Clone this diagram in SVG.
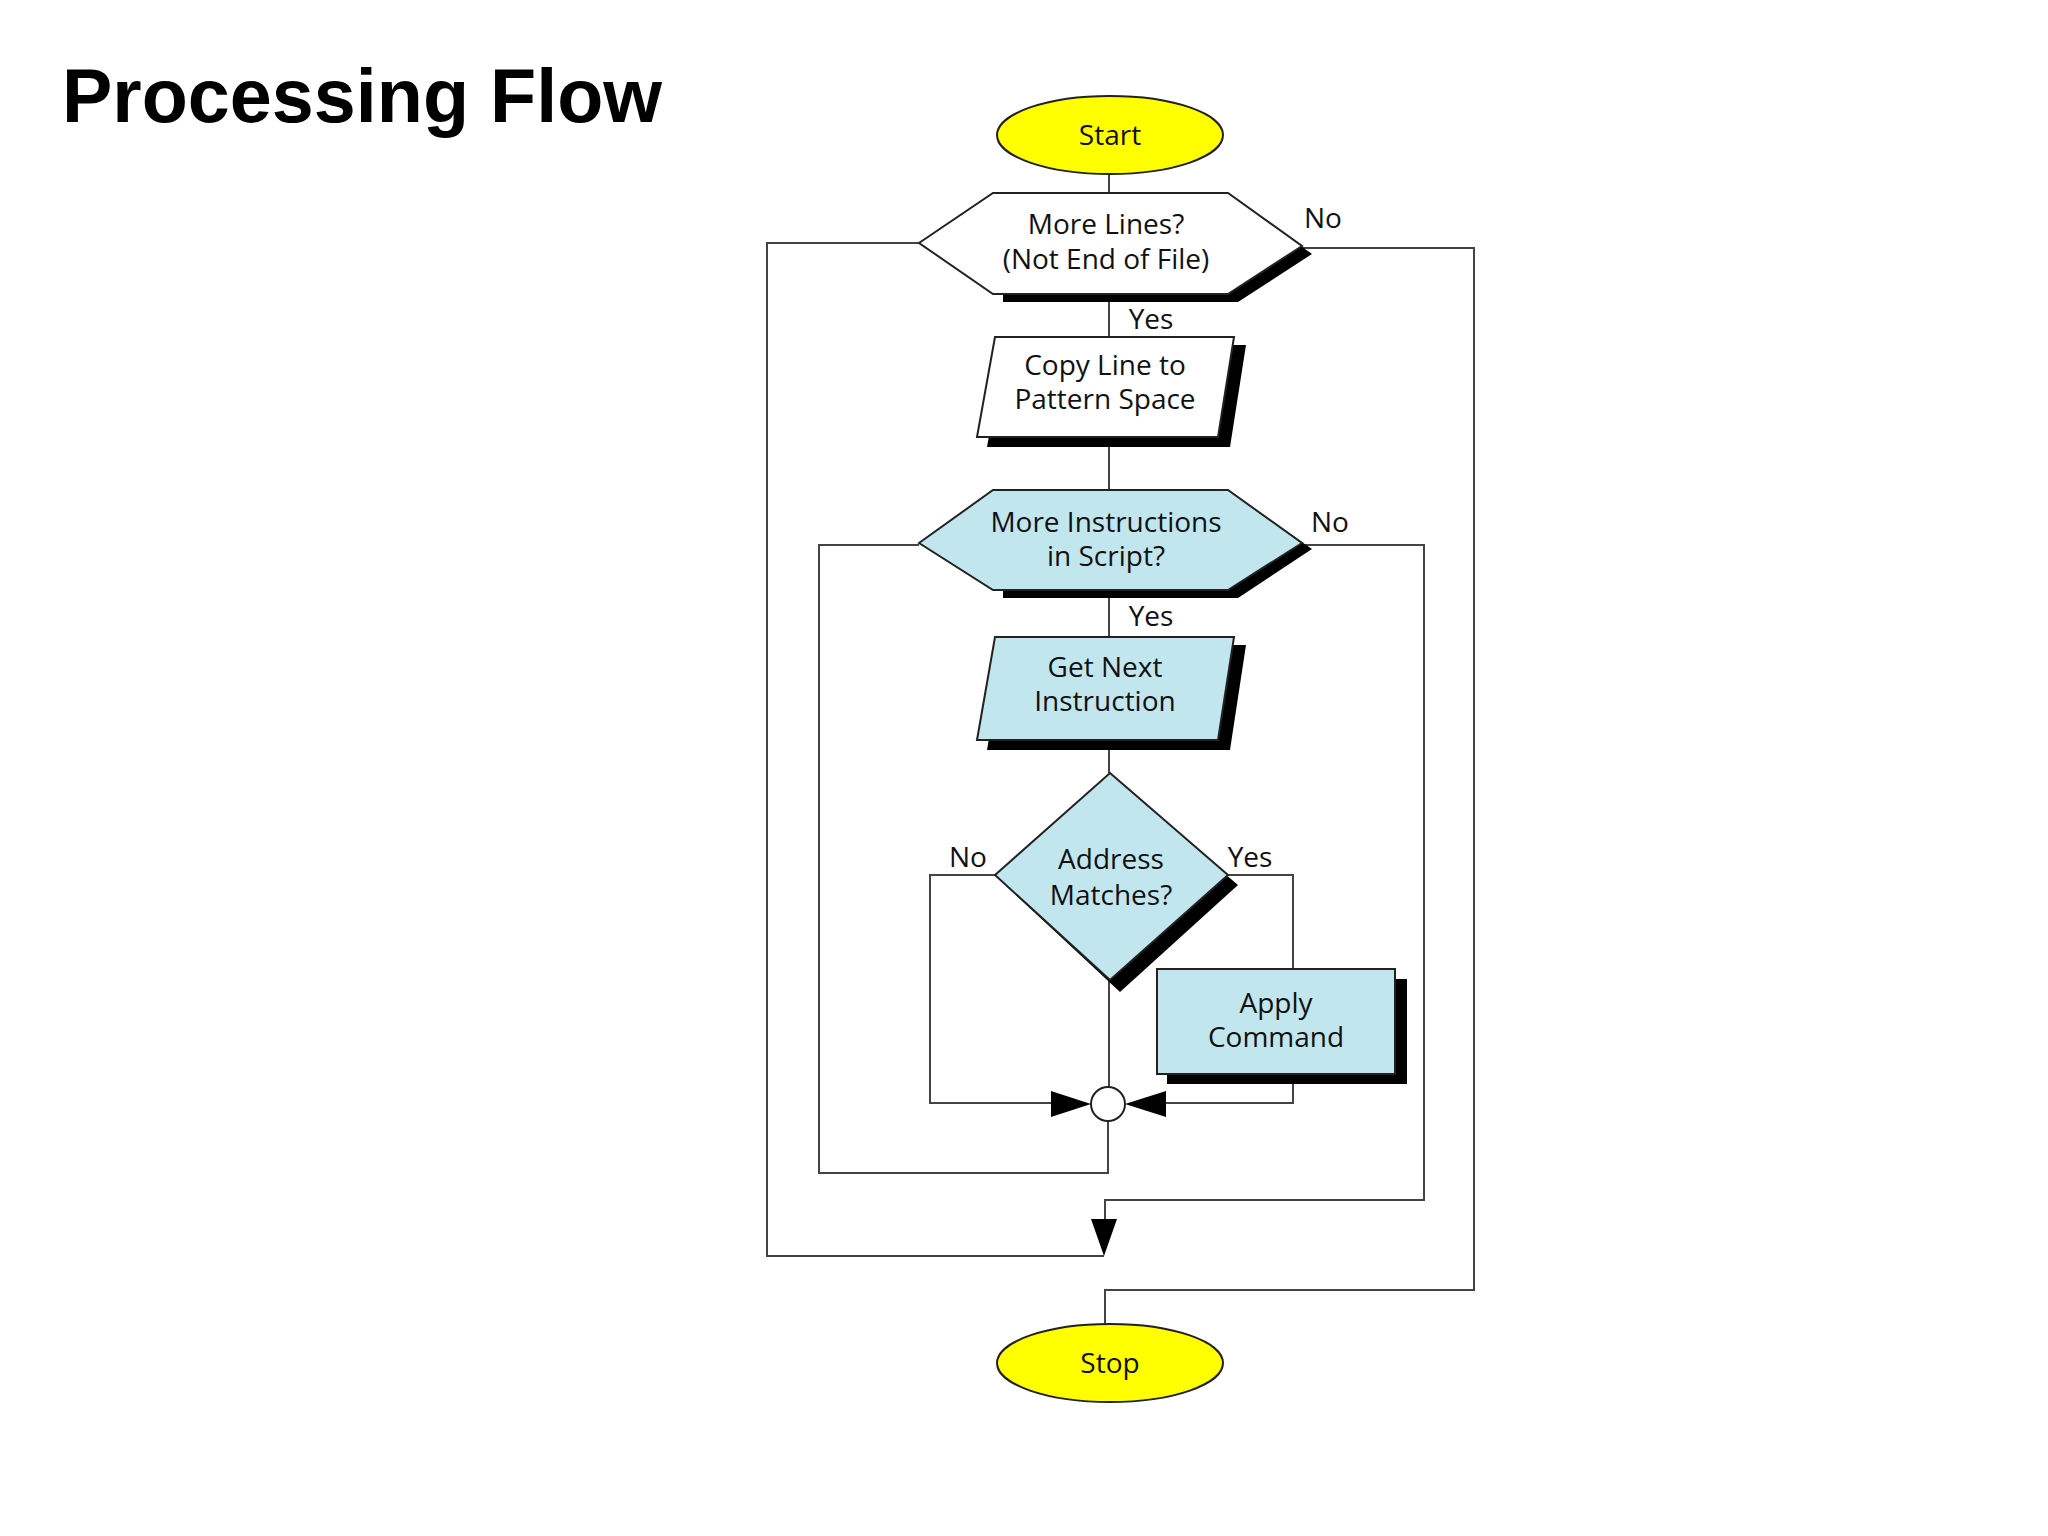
<svg xmlns="http://www.w3.org/2000/svg" width="2048" height="1536" viewBox="0 0 2048 1536">
<style>
text{font-family:"Open Sans","Liberation Sans",sans-serif;font-size:28px;fill:#111;text-anchor:middle}
.t{font-family:"Liberation Sans",sans-serif;font-weight:bold;font-size:76px;text-anchor:start;fill:#000}
.ln{fill:none;stroke:#444;stroke-width:2}
.sh{fill:#000}
.w{fill:#fff;stroke:#222;stroke-width:2}
.b{fill:#c2e6ee;stroke:#222;stroke-width:2}
.y{fill:#ffff00;stroke:#222;stroke-width:2}
</style>
<rect width="2048" height="1536" fill="#fff"/>
<text class="t" x="62" y="122" textLength="600" lengthAdjust="spacingAndGlyphs">Processing Flow</text>
<g id="connectors">
<path class="ln" d="M1109 174V193M1109 294V337M1109 437V490M1109 590V637M1109 740V773"/>
<path class="ln" d="M919 243H767V1256H1104"/>
<path class="ln" d="M1302 248H1474V1290H1105V1324"/>
<path class="ln" d="M919 545H819V1173H1108V1121"/>
<path class="ln" d="M1302 545H1424V1200H1105V1224"/>
<path class="ln" d="M995 875H930V1103H1060"/>
<path class="ln" d="M1228 875H1293V969M1293 1074V1103H1160"/>
<path class="ln" d="M1109 980V1087"/>
<polygon points="1091,1104 1051,1091 1051,1117" fill="#000"/>
<polygon points="1125,1104 1166,1091 1166,1117" fill="#000"/>
<polygon points="1104,1256 1091,1219 1117,1219" fill="#000"/>
<circle cx="1108" cy="1104" r="17" fill="#fff" stroke="#222" stroke-width="2"/>
</g>
<g id="labels">
<text x="1323" y="228">No</text>
<text x="1151" y="329">Yes</text>
<text x="1330" y="532">No</text>
<text x="1151" y="626">Yes</text>
<text x="968" y="867">No</text>
<text x="1250" y="867">Yes</text>
</g>
<g id="start"><ellipse class="y" cx="1110" cy="135" rx="113" ry="39"/><text x="1110" y="145">Start</text></g>
<g id="more-lines">
<polygon class="sh" points="1003,201 1238,201 1312,254 1238,302 1003,302"/>
<polygon class="w" points="919,243 993,193 1228,193 1302,246 1228,294 993,294"/>
<text x="1106" y="234">More Lines?</text><text x="1106" y="269">(Not End of File)</text>
</g>
<g id="copy-line">
<polygon class="sh" points="1005,345 1246,345 1230,447 987,447"/>
<polygon class="w" points="995,337 1234,337 1218,437 977,437"/>
<text x="1105" y="375">Copy Line to</text><text x="1105" y="409">Pattern Space</text>
</g>
<g id="more-instr">
<polygon class="sh" points="1003,498 1238,498 1312,549 1238,598 1003,598"/>
<polygon class="b" points="919,543 993,490 1228,490 1302,543 1228,590 993,590"/>
<text x="1106" y="532">More Instructions</text><text x="1106" y="566">in Script?</text>
</g>
<g id="get-next">
<polygon class="sh" points="1005,645 1246,645 1230,750 987,750"/>
<polygon class="b" points="995,637 1234,637 1218,740 977,740"/>
<text x="1105" y="677">Get Next</text><text x="1105" y="711">Instruction</text>
</g>
<g id="address">
<polygon class="sh" points="1120,785 1238,885 1120,992 1005,885"/>
<polygon class="b" points="1110,773 1228,875 1110,980 995,875"/>
<text x="1111" y="869">Address</text><text x="1111" y="905">Matches?</text>
</g>
<g id="apply">
<rect class="sh" x="1167" y="979" width="240" height="105"/>
<rect class="b" x="1157" y="969" width="238" height="105"/>
<text x="1276" y="1013">Apply</text><text x="1276" y="1047">Command</text>
</g>
<g id="stop"><ellipse class="y" cx="1110" cy="1363" rx="113" ry="39"/><text x="1110" y="1373">Stop</text></g>
</svg>
